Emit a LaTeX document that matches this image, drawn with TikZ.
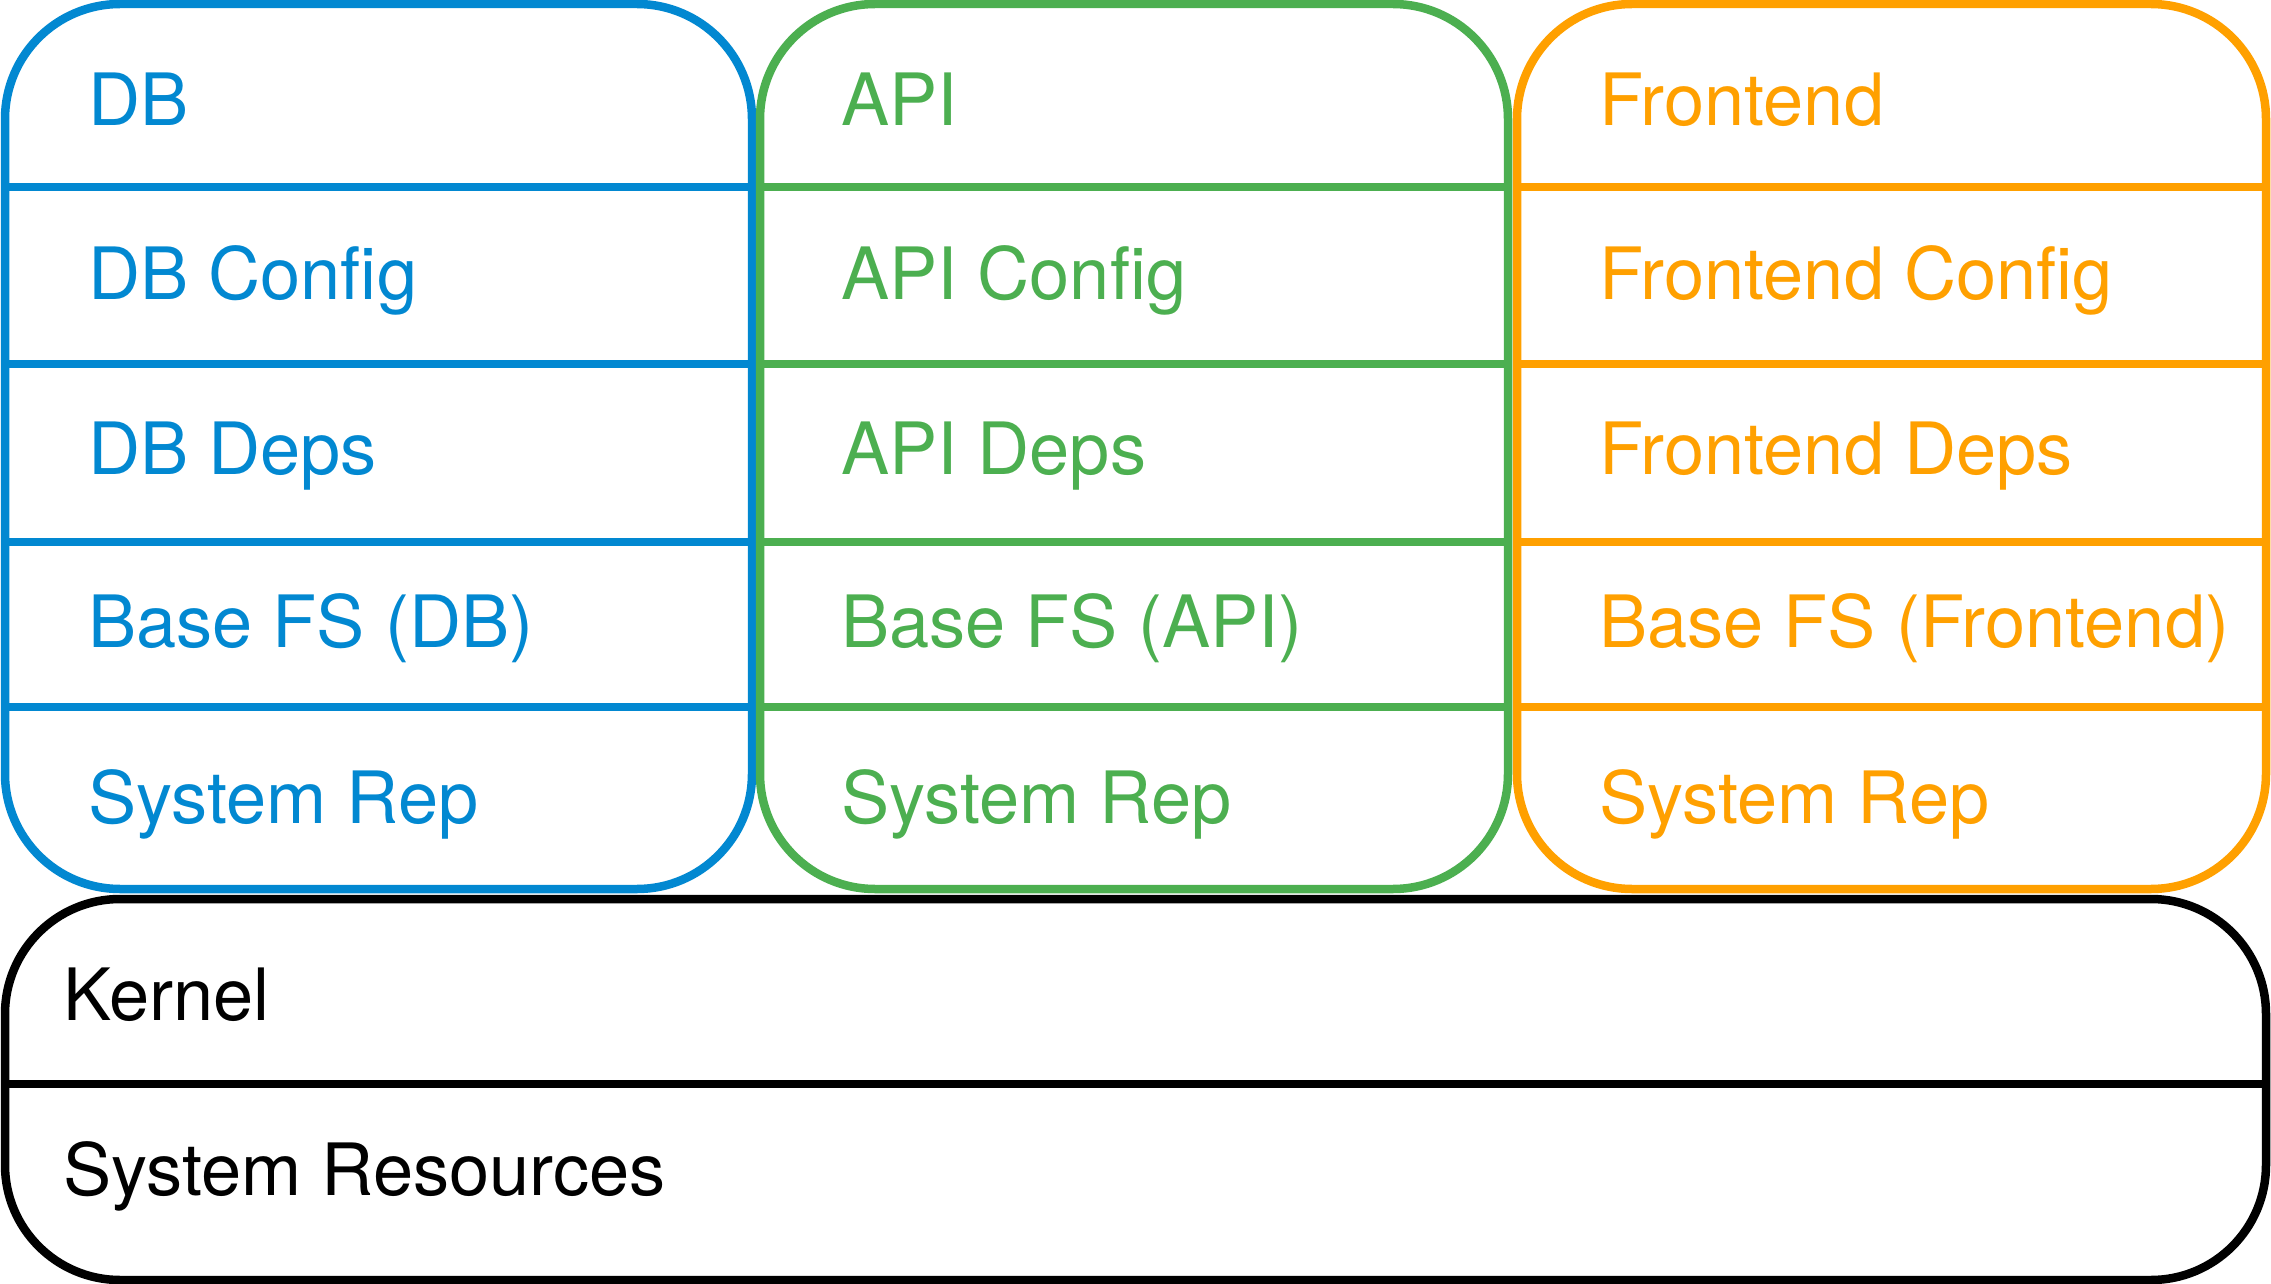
\documentclass[tikz,border=0pt]{standalone}
\usepackage{fontspec}
\setmainfont{TeX Gyre Heros}
\definecolor{cblue}{HTML}{0288D1}
\definecolor{cgreen}{HTML}{4CAF50}
\definecolor{corange}{HTML}{FFA000}
\begin{document}
\begin{tikzpicture}[x=1pt,y=-1pt,
  frame/.style={line width=8.5pt,rounded corners=115pt},
  sep/.style={line width=8.5pt},
  lbl/.style={anchor=base west,inner sep=0pt,font=\fontsize{72.2}{80}\selectfont}]
\useasboundingbox (0,0) rectangle (2271,1284);
% columns: left, right
\foreach \c/\l/\r in {cblue/5/752, cgreen/760/1508, corange/1517/2266}{
  \draw[frame,draw=\c] (\l,4) rectangle (\r,889);
  \foreach \yy in {187,364,542,707}{
    \draw[sep,draw=\c] (\l,\yy) -- (\r,\yy);
  }
}
% texts
\node[lbl,text=cblue] (db1) at (88,126) {DB};
\node[lbl,text=cblue] (db2) at (88,299) {DB Config};
\node[lbl,text=cblue] (db3) at (88,474) {DB Deps};
\node[lbl,text=cblue] (db4) at (88,647) {Base FS (DB)};
\node[lbl,text=cblue] (db5) at (88,823) {System Rep};
\node[lbl,text=cgreen] (api1) at (841,126) {API};
\node[lbl,text=cgreen] (api2) at (841,299) {API Config};
\node[lbl,text=cgreen] (api3) at (841,474) {API Deps};
\node[lbl,text=cgreen] (api4) at (841,647) {Base FS (API)};
\node[lbl,text=cgreen] (api5) at (841,823) {System Rep};
\node[lbl,text=corange] (fe1) at (1599,126) {Frontend};
\node[lbl,text=corange] (fe2) at (1599,299) {Frontend Config};
\node[lbl,text=corange] (fe3) at (1599,474) {Frontend Deps};
\node[lbl,text=corange] (fe4) at (1599,647) {Base FS (Frontend)};
\node[lbl,text=corange] (fe5) at (1599,823) {System Rep};
% bottom
\draw[frame,draw=black] (5,899) rectangle (2266,1280);
\draw[sep,draw=black] (5,1084) -- (2270,1084);
\node[lbl,text=black] (kern) at (63,1020) {Kernel};
\node[lbl,text=black] (sysres) at (63,1195) {System Resources};
\end{tikzpicture}
\end{document}
